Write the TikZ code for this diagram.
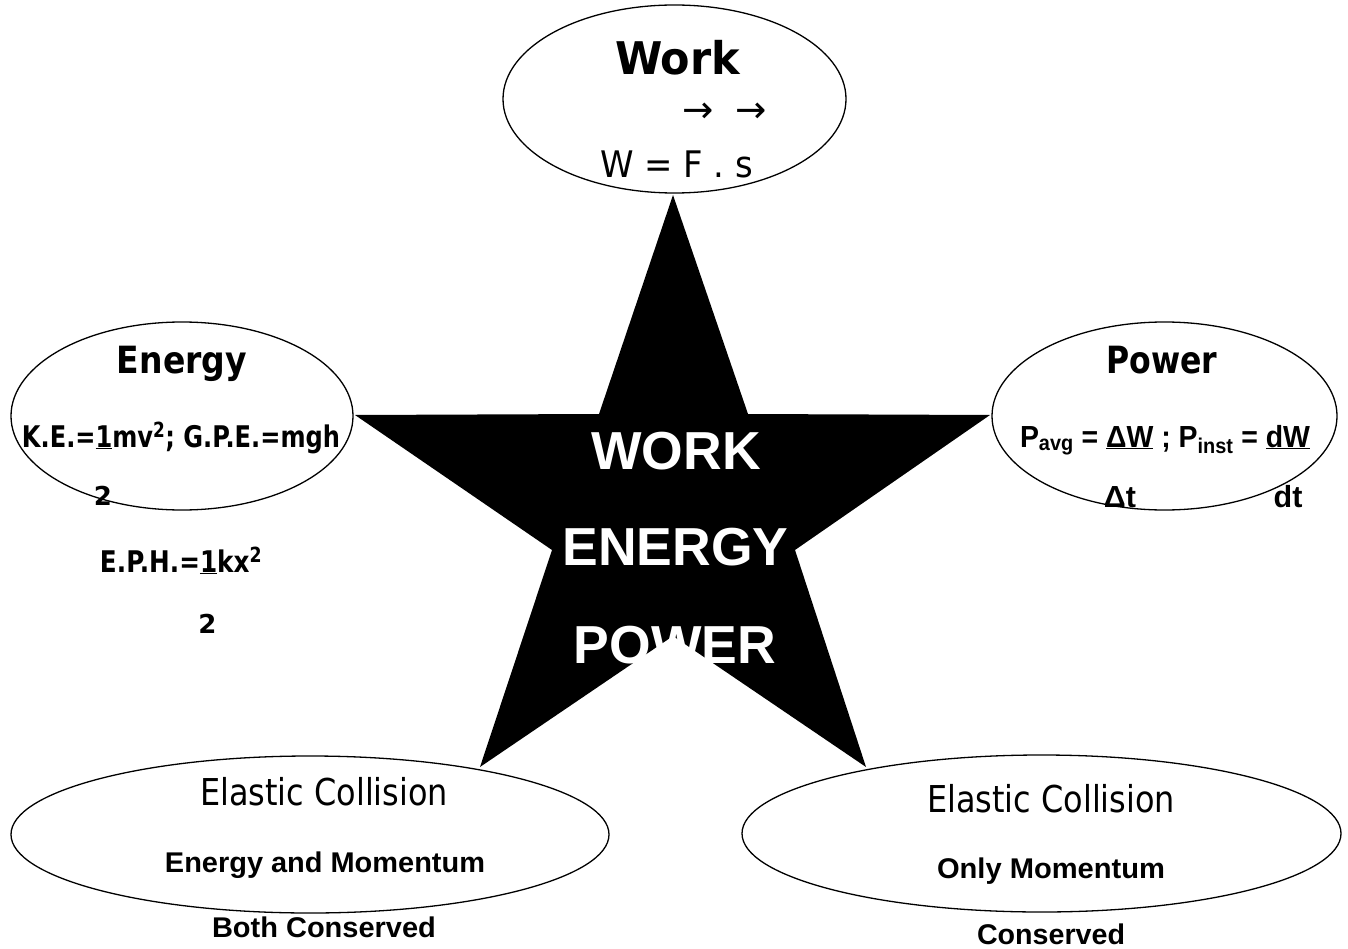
\documentclass[tikz,border=0pt]{standalone}
\usepackage{fontspec}
\usepackage{graphicx}
\usetikzlibrary{shapes.geometric}
\newfontfamily\tah{DejaVu Sans}
\newfontfamily\ari{Liberation Sans}
\newcommand{\fw}[2]{\resizebox{#1pt}{\height}{#2}}
\begin{document}
\begin{tikzpicture}[x=1pt,y=-1pt,
  oval/.style={draw=black,line width=1.3pt,fill=white,ellipse,inner sep=0pt},
  txt/.style={inner sep=0pt,outer sep=0pt,anchor=base,text=black},
  tahb/.style={txt,font=\tah\bfseries\fontsize{#1}{#1}\selectfont},
  tahr/.style={txt,font=\tah\fontsize{#1}{#1}\selectfont},
  arib/.style={txt,font=\ari\bfseries\fontsize{#1}{#1}\selectfont},
  startxt/.style={txt,text=white,font=\ari\bfseries\fontsize{53.5}{60}\selectfont}]
\useasboundingbox (0,0) rectangle (1348,949);
\fill[white] (0,0) rectangle (1348,949);
% star
\fill[black] (673,195) -- (599,414) -- (355,415) -- (552,550) -- (480,767)
  -- (673,636) -- (866,767) -- (795,550) -- (990,415) -- (748,414) -- cycle;
% ovals
\node[oval,minimum width=343pt,minimum height=188pt] (work) at (674.5,99) {};
\node[oval,minimum width=342pt,minimum height=188pt] (energy) at (182,416) {};
\node[oval,minimum width=345pt,minimum height=188pt] (power) at (1164.5,416) {};
\node[oval,minimum width=598pt,minimum height=157pt] (ecl) at (310,834.5) {};
\node[oval,minimum width=599pt,minimum height=157pt] (ecr) at (1041.5,833.5) {};
% work
\node[tahb=45] (workt) at (677.5,75) {\fw{125}{Work}};
\node[inner sep=0pt,font=\tah\fontsize{37}{37}\selectfont] (arr) at (724.5,113) {\fw{85}{→\hspace{0.6em}→}};
\node[tahr=36.6] (wfs) at (676.5,178) {\fw{153}{W = F . s}};
% energy
\node[tahb=37.5] (energyt) at (182,373) {\fw{130}{Energy}};
\node[tahb=29.8] (ke) at (181,447) {\fw{318}{K.E.=\underline{1}mv\textsuperscript{2}; G.P.E.=mgh}};
\node[tahb=26] (ke2) at (103,505) {2};
\node[tahb=29.8] (eph) at (181,572) {\fw{162}{E.P.H.=\underline{1}kx\textsuperscript{2}}};
\node[tahb=26] (eph2) at (207.5,633) {2};
% power
\node[tahb=37.5] (powert) at (1162,373) {\fw{111}{Power}};
\node[arib=30.5] (pavg) at (1165,447) {\fw{290}{P\textsubscript{avg} = \underline{ΔW} ; P\textsubscript{inst} = \underline{dW}}};
\node[arib=30.5] (dt1) at (1120,507) {Δt};
\node[arib=30.5] (dt2) at (1288,507) {dt};
% star text
\node[startxt] (sw) at (676,469) {WORK};
\node[startxt] (se) at (675.6,565.5) {ENERGY};
\node[startxt] (sp) at (675,663) {POWER};
% bottom left
\node[tahr=37] (ec1) at (324,805) {\fw{248}{Elastic Collision}};
\node[arib=28.5] (eam) at (325,872) {\fw{320}{Energy and Momentum}};
\node[arib=28.5] (bc) at (324,937) {\fw{224}{Both Conserved}};
% bottom right
\node[tahr=37] (ec2) at (1051,812) {\fw{248}{Elastic Collision}};
\node[arib=28.5] (om) at (1051,878) {\fw{228}{Only Momentum}};
\node[arib=28.5] (cons) at (1051,944) {\fw{148}{Conserved}};
\end{tikzpicture}
\end{document}
